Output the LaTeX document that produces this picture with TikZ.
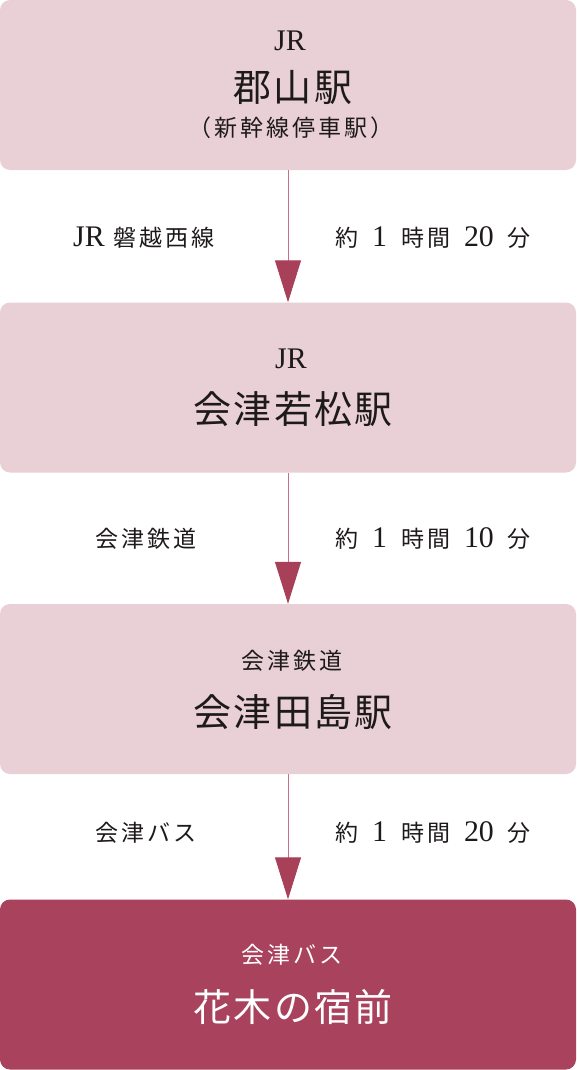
\documentclass[tikz,border=0pt]{standalone}
\usepackage{fontspec}
\setmainfont{Liberation Serif}[Scale=1.3]
\newfontfamily\jpsmall[LetterSpace=13]{Noto Sans CJK JP}
\newfontfamily\jpbig[LetterSpace=6]{Noto Sans CJK JP}
\usetikzlibrary{arrows.meta}

\definecolor{boxpink}{HTML}{E8D0D6}
\definecolor{boxred}{HTML}{A9425C}
\definecolor{arrowred}{HTML}{A8405A}
\definecolor{linepink}{HTML}{C8708A}
\definecolor{textdark}{HTML}{1E1A1B}

\newcommand{\gap}{\hspace{9pt}}
\newcommand{\tgap}{\hspace{14pt}}

\tikzset{
  stationbox/.style={rectangle, rounded corners=10pt, fill=boxpink, minimum width=576pt, minimum height=170pt, inner sep=0pt},
  lastbox/.style={stationbox, fill=boxred},
  smalltext/.style={text=textdark, inner sep=0pt, font=\fontsize{23pt}{27pt}\jpsmall},
  bigtext/.style={text=textdark, inner sep=0pt, font=\fontsize{38pt}{42pt}\jpbig},
  conn/.style={draw=linepink, line width=1pt, -{Triangle[width=26pt,length=42pt,color=arrowred]}}
}

\begin{document}
\begin{tikzpicture}[x=1pt, y=-1pt]

        \useasboundingbox (0,0) rectangle (576,1070);

        % Station boxes
        \node[stationbox] (koriyama) at (288,85) {};
        \node[stationbox] (wakamatsu) at (288,387.5) {};
        \node[stationbox] (tajima) at (288,689) {};
        \node[lastbox] (hanaki) at (288,984.5) {};

        % Texts in the boxes
        \node[smalltext] (koriyamaop) at (290,41) {\rmfamily JR};
        \node[bigtext] (koriyamaname) at (293,88) {郡山駅};
        \node[smalltext] (koriyamanote) at (291,128) {（新幹線停車駅）};
        \node[smalltext] (wakamatsuop) at (291,359) {\rmfamily JR};
        \node[bigtext] (wakamatsuname) at (293,409) {会津若松駅};
        \node[smalltext] (tajimaop) at (292,661) {会津鉄道};
        \node[bigtext] (tajimaname) at (293,712) {会津田島駅};
        \node[smalltext, text=white] (hanakiop) at (292,955) {会津バス};
        \node[bigtext, text=white] (hanakiname) at (293,1007) {花木の宿前};

        % Routes and times
        \node[smalltext] (route1) at (144,238) {{\rmfamily JR}\gap 磐越西線};
        \node[smalltext] (time1) at (433,238) {約\tgap{\rmfamily 1}\tgap 時間\tgap{\rmfamily 20}\tgap 分};
        \node[smalltext] (route2) at (146,539) {会津鉄道};
        \node[smalltext] (time2) at (433,539) {約\tgap{\rmfamily 1}\tgap 時間\tgap{\rmfamily 10}\tgap 分};
        \node[smalltext] (route3) at (146,833) {会津バス};
        \node[smalltext] (time3) at (433,833) {約\tgap{\rmfamily 1}\tgap 時間\tgap{\rmfamily 20}\tgap 分};

        % Connectors
        \draw[conn] (koriyama.south) -- (wakamatsu.north);
        \draw[conn] (wakamatsu.south) -- (tajima.north);
        \draw[conn] (tajima.south) -- (hanaki.north);

      \end{tikzpicture}
\end{document}
